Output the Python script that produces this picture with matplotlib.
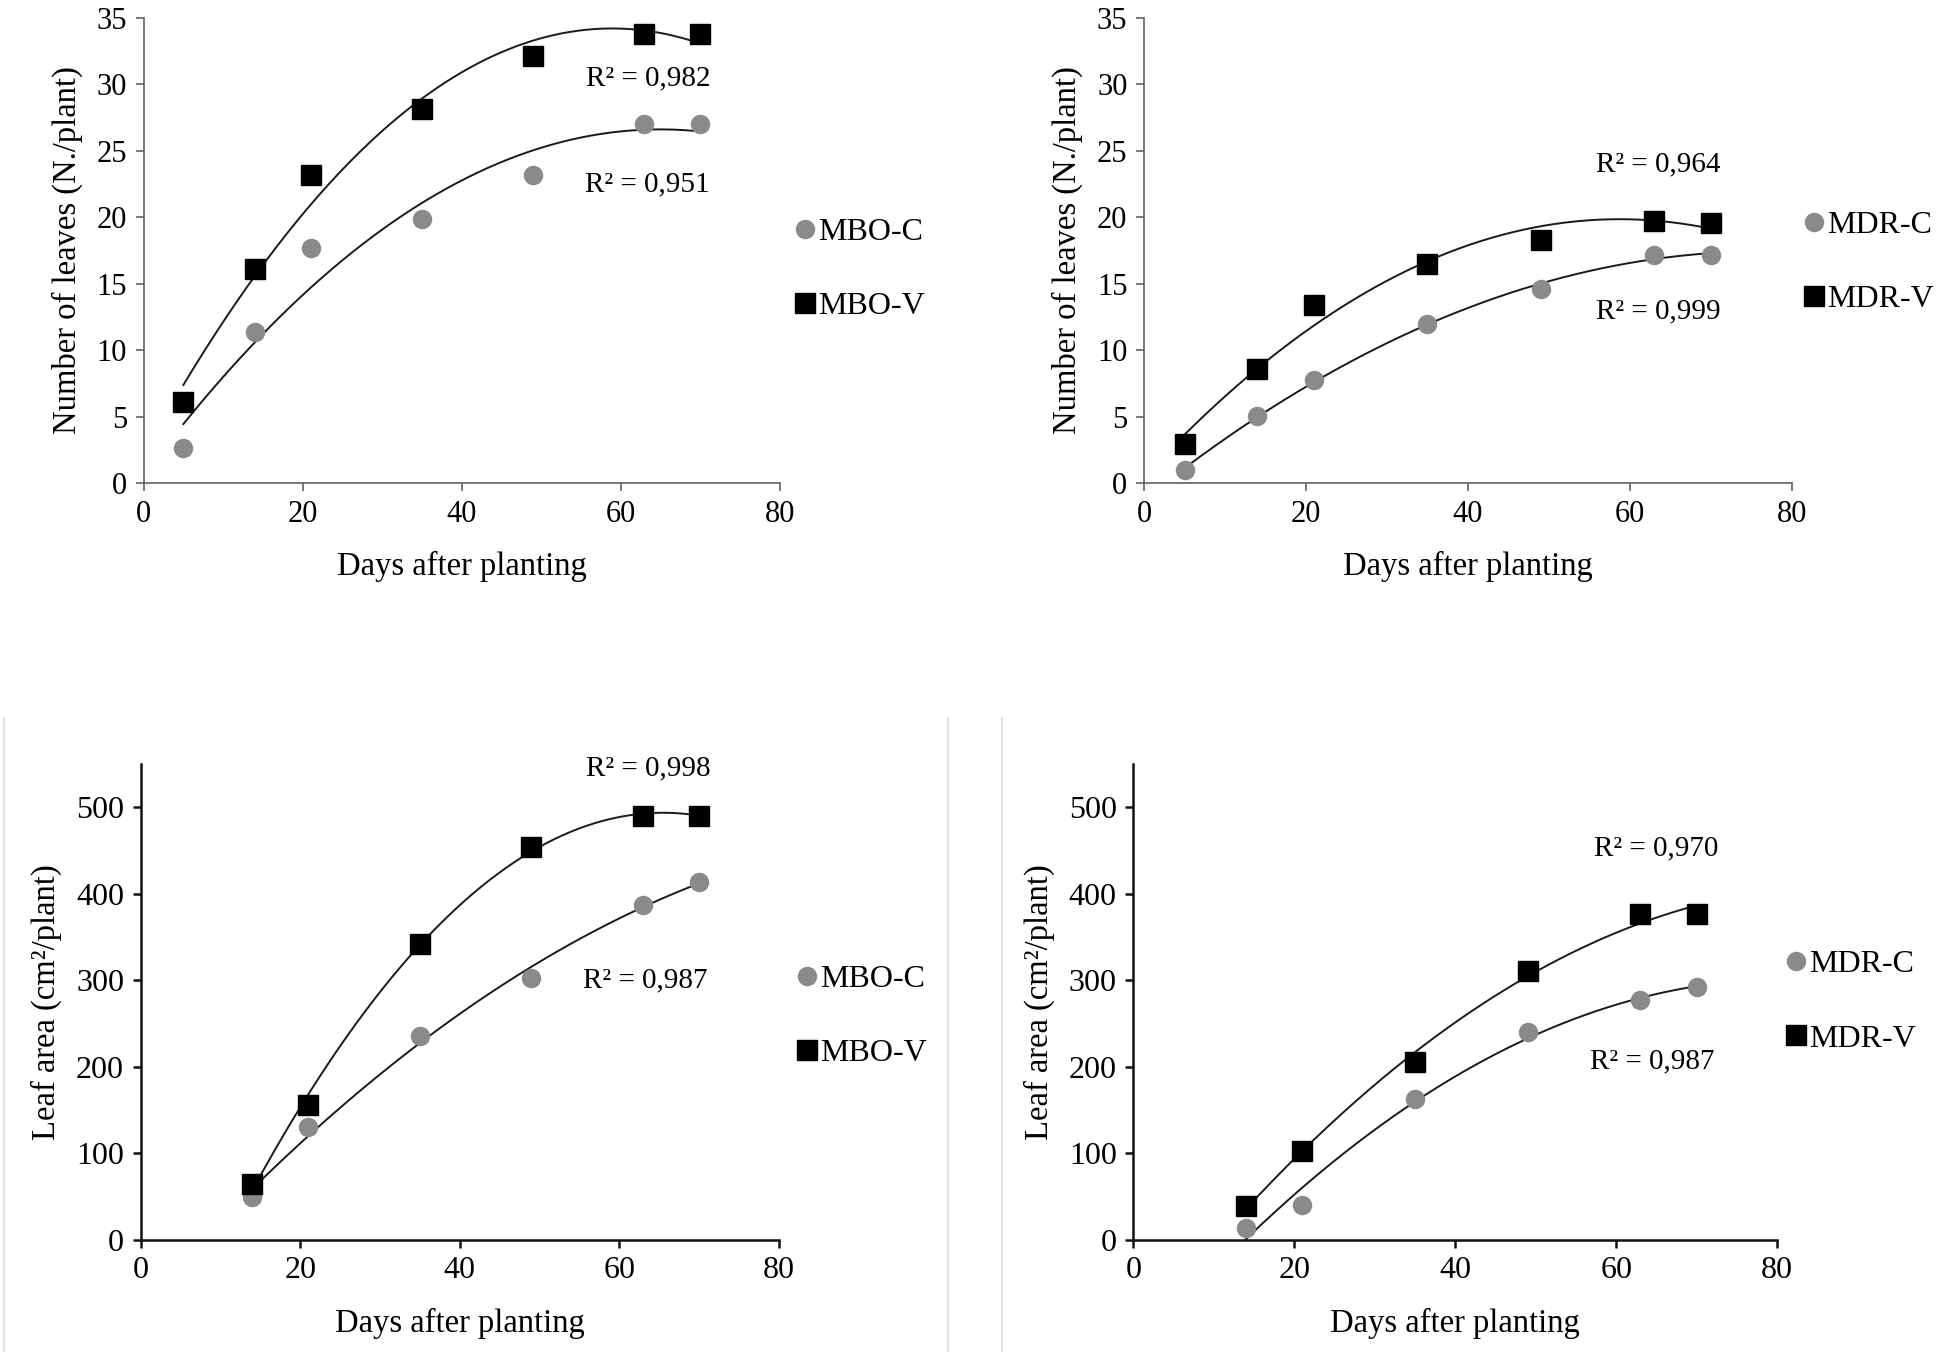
import numpy as np
import matplotlib
matplotlib.use("Agg")
import matplotlib.pyplot as plt
from matplotlib.lines import Line2D

plt.rcParams['font.family'] = ['Liberation Serif', 'DejaVu Serif']

# ---- data ----
days_leaves = [5, 14, 21, 35, 49, 63, 70]
days_area = [14, 21, 35, 49, 63, 70]

mbo_c_leaves = [2.7, 11.4, 17.7, 19.9, 23.2, 27.0, 27.0]
mbo_v_leaves = [6.1, 16.1, 23.2, 28.1, 32.1, 33.8, 33.8]
mdr_c_leaves = [1.0, 5.1, 7.8, 12.0, 14.6, 17.2, 17.2]
mdr_v_leaves = [3.0, 8.6, 13.4, 16.5, 18.3, 19.7, 19.6]

mbo_c_area = [50, 130, 235, 302, 387, 414]
mbo_v_area = [65, 156, 342, 454, 490, 490]
mdr_c_area = [14, 40, 163, 240, 277, 292]
mdr_v_area = [39, 103, 205, 311, 377, 377]

r2_labels = {
    'tl': ["R\u00b2 = 0,982", "R\u00b2 = 0,951"],
    'tr': ["R\u00b2 = 0,964", "R\u00b2 = 0,999"],
    'bl': ["R\u00b2 = 0,998", "R\u00b2 = 0,987"],
    'br': ["R\u00b2 = 0,970", "R\u00b2 = 0,987"],
}

fig = plt.figure(figsize=(19.54, 13.52), dpi=100)

# faint vertical separators around the bottom panels
ytop_sep = 1 - 718 / 1352
for xp in (4 / 1954, 948 / 1954, 1002 / 1954):
    fig.lines.append(Line2D([xp, xp], [0, ytop_sep], transform=fig.transFigure,
                            color='#e4e4e4', lw=1.5))


def panel(rect, x, yc, yv, lc, lv, ylabel, ytop, yticks, r2, r2pos, legpos,
          spine_col, spine_lw, tick_fs, lab_fs):
    ax = fig.add_axes(rect)
    xx = np.array(x, dtype=float)
    for yy in (yv, yc):
        p = np.polyfit(xx, np.array(yy, dtype=float), 2)
        xs = np.linspace(xx.min(), xx.max(), 200)
        ax.plot(xs, np.polyval(p, xs), color='#1a1a1a', lw=1.4, zorder=2)
    ax.plot(x, yc, 'o', color='#8a8a8a', ms=13, mec='#8a8a8a', zorder=3)
    ax.plot(x, yv, 's', color='black', ms=14, zorder=3)
    ax.set_xlim(0, 80)
    ax.set_ylim(0, ytop)
    ax.set_xticks([0, 20, 40, 60, 80])
    ax.set_yticks(yticks)
    for s in ('top', 'right'):
        ax.spines[s].set_visible(False)
    for s in ('left', 'bottom'):
        ax.spines[s].set_color(spine_col)
        ax.spines[s].set_linewidth(spine_lw)
    ax.tick_params(direction='out', length=6, width=spine_lw, color=spine_col,
                   labelsize=tick_fs, pad=6)
    ax.set_xlabel("Days after planting", fontsize=lab_fs, labelpad=16)
    ax.set_ylabel(ylabel, fontsize=lab_fs, labelpad=10)
    for txt, (px, py) in zip(r2, r2pos):
        ax.text(px, py, txt, fontsize=21, ha='center', va='center')
    handles = [
        Line2D([], [], marker='o', ls='', color='#8a8a8a', ms=13),
        Line2D([], [], marker='s', ls='', color='black', ms=14),
    ]
    ax.legend(handles, [lc, lv], loc='center left', bbox_to_anchor=legpos,
              frameon=False, fontsize=23, handlelength=0.6, handletextpad=0.1,
              labelspacing=1.4, borderaxespad=0)
    return ax


panel([0.0735, 0.6424, 0.3255, 0.3446], days_leaves, mbo_c_leaves, mbo_v_leaves,
      'MBO-C', 'MBO-V', 'Number of leaves (N./plant)', 35, range(0, 36, 5),
      r2_labels['tl'], [(63.5, 30.4), (63.3, 22.5)], (1.005, 0.46),
      '#606060', 1.2, 22, 23.5)

panel([0.5855, 0.6424, 0.3315, 0.3446], days_leaves, mdr_c_leaves, mdr_v_leaves,
      'MDR-C', 'MDR-V', 'Number of leaves (N./plant)', 35, range(0, 36, 5),
      r2_labels['tr'], [(63.5, 24.0), (63.5, 12.9)], (1.0, 0.475),
      '#606060', 1.2, 22, 23.5)

panel([0.072, 0.083, 0.3265, 0.352], days_area, mbo_c_area, mbo_v_area,
      'MBO-C', 'MBO-V', 'Leaf area (cm\u00b2/plant)', 550, range(0, 501, 100),
      r2_labels['bl'], [(63.7, 545), (63.3, 300)], (1.01, 0.47),
      '#111111', 1.8, 23, 23.5)

panel([0.580, 0.083, 0.3295, 0.352], days_area, mdr_c_area, mdr_v_area,
      'MDR-C', 'MDR-V', 'Leaf area (cm\u00b2/plant)', 550, range(0, 501, 100),
      r2_labels['br'], [(65.0, 452), (64.5, 206)], (0.995, 0.50),
      '#111111', 1.8, 23, 23.5)

fig.savefig("out.png", dpi=100)
